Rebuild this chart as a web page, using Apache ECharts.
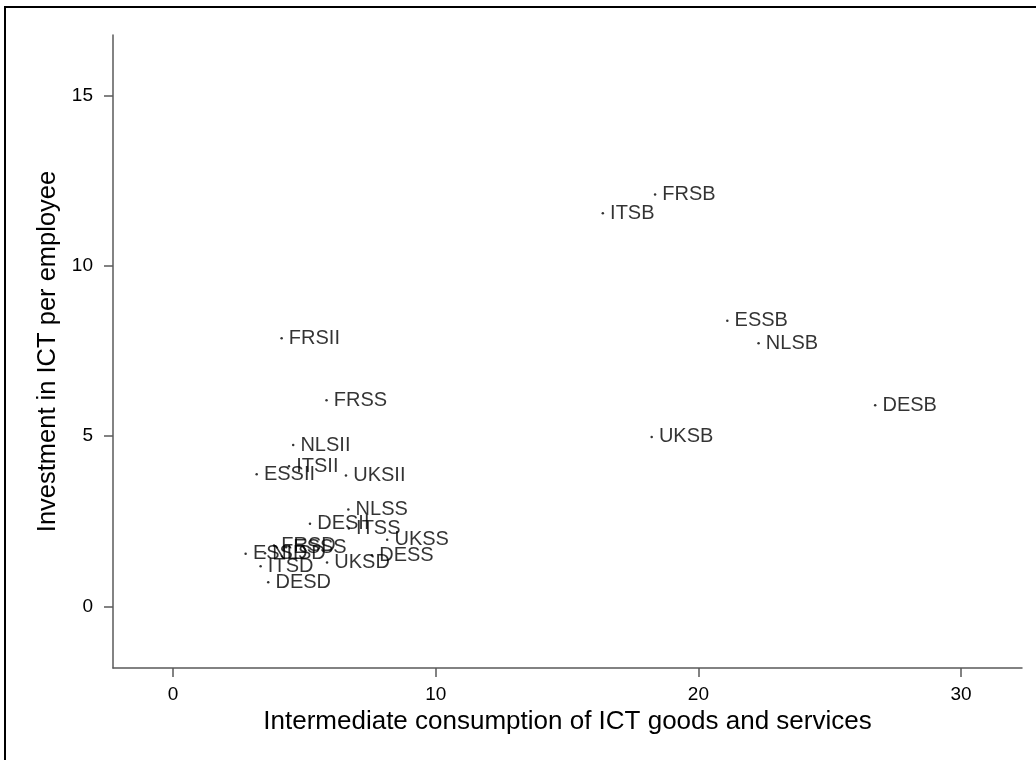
<!DOCTYPE html>
<html>
<head>
<meta charset="utf-8">
<script src="https://cdn.jsdelivr.net/npm/echarts@6/dist/echarts.min.js"></script>
<style>
html,body{margin:0;padding:0;background:#fff;}
#chart{width:1036px;height:760px;position:absolute;left:0;top:0;}
#frame{position:absolute;left:4px;top:6px;width:1032px;height:754px;border-left:2px solid #000;border-top:2px solid #000;pointer-events:none;}
</style>
</head>
<body>
<div id="chart"></div>
<div id="frame"></div>
<script>
const labels = ["FRSB","ITSB","ESSB","NLSB","DESB","UKSB",
                "FRSII","NLSII","ESSII","ITSII","UKSII","DESII",
                "FRSS","NLSS","ITSS","UKSS","DESS","ESSS",
                "UKSD","ESSD","ITSD","DESD","FRSD","NLSD"];
const xVals = [18.35,16.36,21.10,22.29,26.73,18.22,
               4.13,4.57,3.18,4.41,6.58,5.21,
               5.84,6.67,6.69,8.15,7.57,4.30,
               5.86,2.76,3.33,3.62,3.84,3.50];
const yVals = [12.10,11.55,8.39,7.73,5.91,4.98,
               7.88,4.74,3.88,4.12,3.85,2.43,
               6.06,2.85,2.29,1.96,1.50,1.74,
               1.29,1.55,1.18,0.71,1.79,1.56];
const xTicks = [0,10,20,30];
const yTicks = [0,5,10,15];

const pts = labels.map((n,i)=>({name:n, value:[xVals[i], yVals[i]]}));
const font = "'Liberation Sans', Arial, Helvetica, sans-serif";
const axisCol = '#5a5a5a';

const chart = echarts.init(document.getElementById('chart'), null, {renderer:'canvas'});
chart.setOption({
  animation:false,
  grid:{left:113, right:14, top:35, bottom:92, containLabel:false},
  xAxis:{
    type:'value', min:-2.29, max:32.32, interval:10,
    name:'Intermediate consumption of ICT goods and services',
    nameLocation:'middle', nameGap:35,
    nameTextStyle:{fontFamily:font, fontSize:26, color:'#000'},
    axisLine:{show:true, onZero:false, lineStyle:{color:axisCol, width:1.5}},
    axisTick:{show:true, length:9, lineStyle:{color:axisCol, width:1.5},
      customValues:xTicks},
    axisLabel:{fontFamily:font, fontSize:19, color:'#000', margin:17,
      customValues:xTicks},
    splitLine:{show:false}
  },
  yAxis:{
    type:'value', min:-1.81, max:16.79, interval:5,
    name:'Investment in ICT per employee',
    nameLocation:'middle', nameGap:50,
    nameTextStyle:{fontFamily:font, fontSize:25.5, color:'#000'},
    axisLine:{show:true, onZero:false, lineStyle:{color:axisCol, width:1.5}},
    axisTick:{show:true, length:9, lineStyle:{color:axisCol, width:1.5},
      customValues:yTicks},
    axisLabel:{fontFamily:font, fontSize:19, color:'#000', margin:20,
      customValues:yTicks},
    splitLine:{show:false}
  },
  series:[{
    type:'scatter',
    data:pts,
    symbol:'circle',
    symbolSize:2.5,
    itemStyle:{color:'#000'},
    label:{show:true, position:'right', distance:6, formatter:'{b}',
      fontFamily:font, fontSize:20, color:'#000', padding:[3,0,0,0]},
    labelLayout:{hideOverlap:false},
    emphasis:{disabled:true}
  }]
});
</script>
</body>
</html>
